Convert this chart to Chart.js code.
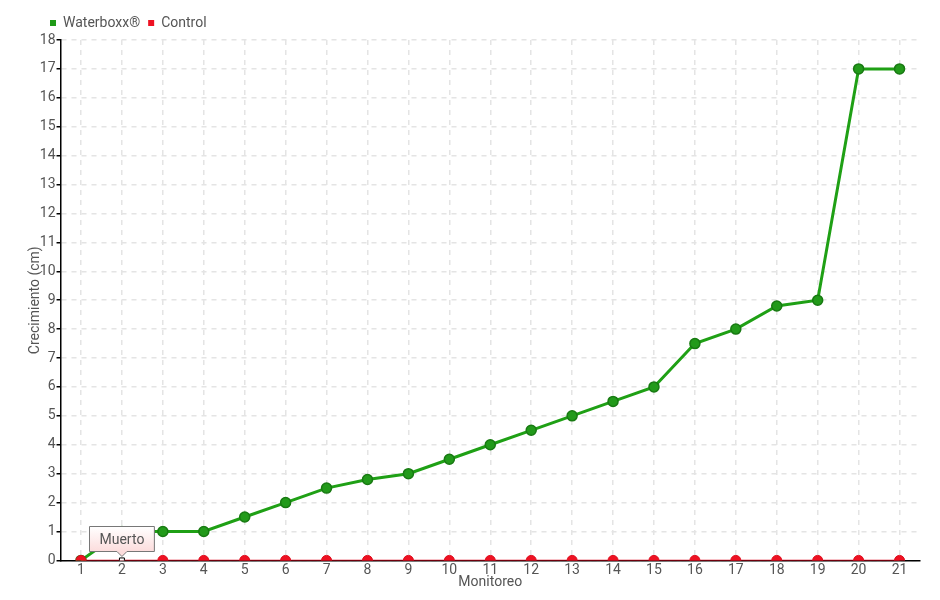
<!DOCTYPE html>
<html>
<head>
<meta charset="utf-8">
<script src="https://cdn.jsdelivr.net/npm/chart.js@4/dist/chart.umd.min.js"></script>
<style>
  html, body { margin: 0; padding: 0; background: #fff; }
  #wrap { width: 940px; height: 600px; position: relative; }
</style>
</head>
<body>
<div id="wrap"><canvas id="myChart" width="940" height="600"></canvas></div>
<script>
// data
let monitoreo = ['1','2','3','4','5','6','7','8','9','10','11','12','13','14','15','16','17','18','19','20','21'];
let waterboxx = [0, 1, 1, 1, 1.5, 2, 2.5, 2.8, 3, 3.5, 4, 4.5, 5, 5.5, 6, 7.5, 8, 8.8, 9, 17, 17];
let control = [0, 0, 0, 0, 0, 0, 0, 0, 0, 0, 0, 0, 0, 0, 0, 0, 0, 0, 0, 0, 0];
let notePoint = 1;          // index of the control point with the note
let noteText = 'Muerto';

const fontFam = "Roboto, sans-serif";
const textGray = '#555555';

// marker style for control: the noted point is a small white square
let ctrlStyle = control.map((v, i) => i === notePoint ? 'rect' : 'circle');
let ctrlFill = control.map((v, i) => i === notePoint ? '#ffffff' : '#ee1122');
let ctrlBorder = control.map((v, i) => i === notePoint ? '#000000' : '#dd1020');
let ctrlRadius = control.map((v, i) => i === notePoint ? 3.5 : 5);

// the little callout box above the noted point
const noteBox = {
	id: 'noteBox',
	afterLayout(chart){
		// legend sits a bit further right than chart.js puts it
		chart.legend.left += 15;
	},
	afterDraw(chart){
		let pt = chart.getDatasetMeta(1).data[notePoint];
		if(!pt) return;
		let ctx = chart.ctx;
		ctx.save();
		ctx.font = '14px ' + fontFam;
		let w = ctx.measureText(noteText).width + 20;
		let h = 25;
		let x = Math.round(pt.x - w / 2) + 0.5;
		let y = Math.round(pt.y - 34) + 0.5;
		let grad = ctx.createLinearGradient(0, y, 0, y + h);
		grad.addColorStop(0, '#ffffff');
		grad.addColorStop(1, '#fcdcdc');
		ctx.beginPath();
		ctx.moveTo(x, y);
		ctx.lineTo(x + w, y);
		ctx.lineTo(x + w, y + h);
		ctx.lineTo(pt.x + 5, y + h);
		ctx.lineTo(pt.x, y + h + 5);
		ctx.lineTo(pt.x - 5, y + h);
		ctx.lineTo(x, y + h);
		ctx.closePath();
		ctx.fillStyle = grad;
		ctx.fill();
		ctx.strokeStyle = '#777777';
		ctx.lineWidth = 1;
		ctx.stroke();
		ctx.fillStyle = textGray;
		ctx.textAlign = 'center';
		ctx.textBaseline = 'middle';
		ctx.fillText(noteText, pt.x, y + h / 2 + 1);
		ctx.restore();
	}
};

let tickFont = { family: fontFam, size: 14 };

let ctx = document.getElementById('myChart').getContext('2d');
let chart = new Chart(ctx, {
	type: 'line',
	data: {
		labels: monitoreo,
		datasets: [{
			label: 'Waterboxx®',
			data: waterboxx,
			order: 1,
			borderColor: '#1fa015',
			backgroundColor: '#1f9a17',
			pointBackgroundColor: '#229a1a',
			pointBorderColor: '#187a12',
			pointBorderWidth: 1.5,
			borderWidth: 3,
			pointRadius: 5,
			tension: 0
		},{
			label: 'Control',
			data: control,
			order: 0,
			borderColor: '#dd0018',
			backgroundColor: '#ee1122',
			pointStyle: ctrlStyle,
			pointBackgroundColor: ctrlFill,
			pointBorderColor: ctrlBorder,
			pointBorderWidth: 1,
			pointRadius: ctrlRadius,
			borderWidth: 1.5,
			tension: 0
		}]
	},
	options: {
		responsive: false,
		animation: false,
		layout: { padding: { left: 27, right: 20, top: 8, bottom: 9 } },
		plugins: {
			legend: {
				align: 'start',
				labels: {
					boxWidth: 6,
					boxHeight: 6,
					padding: 8,
					color: textGray,
					font: tickFont,
					generateLabels(ch){
						return ch.data.datasets.map((d, i) => ({
							text: d.label,
							fillStyle: d.backgroundColor,
							strokeStyle: d.backgroundColor,
							lineWidth: 0,
							fontColor: textGray,
							datasetIndex: i
						}));
					}
				}
			},
			tooltip: { enabled: false }
		},
		scales: {
			x: {
				offset: true,
				grid: {
					offset: false,
					color: '#e4e4e4',
					lineWidth: 1.5,
					drawTicks: false
				},
				border: { color: '#000000', width: 1.5, dash: [5, 5] },
				ticks: { color: textGray, font: tickFont, padding: 2, maxRotation: 0 },
				title: { display: true, text: 'Monitoreo', color: textGray, font: tickFont, padding: { top: -7, bottom: 0 } }
			},
			y: {
				min: 0,
				max: 18,
				grid: {
					color: '#e4e4e4',
					lineWidth: 1.5,
					tickColor: '#000000',
					tickLength: 4
				},
				border: { color: '#000000', width: 1.5, dash: [5, 5] },
				ticks: { stepSize: 1, color: textGray, font: tickFont, padding: 1 },
				title: { display: true, text: 'Crecimiento (cm)', color: textGray, font: tickFont, padding: { top: 0, bottom: -5 } }
			}
		}
	},
	plugins: [noteBox]
});
</script>
</body>
</html>
